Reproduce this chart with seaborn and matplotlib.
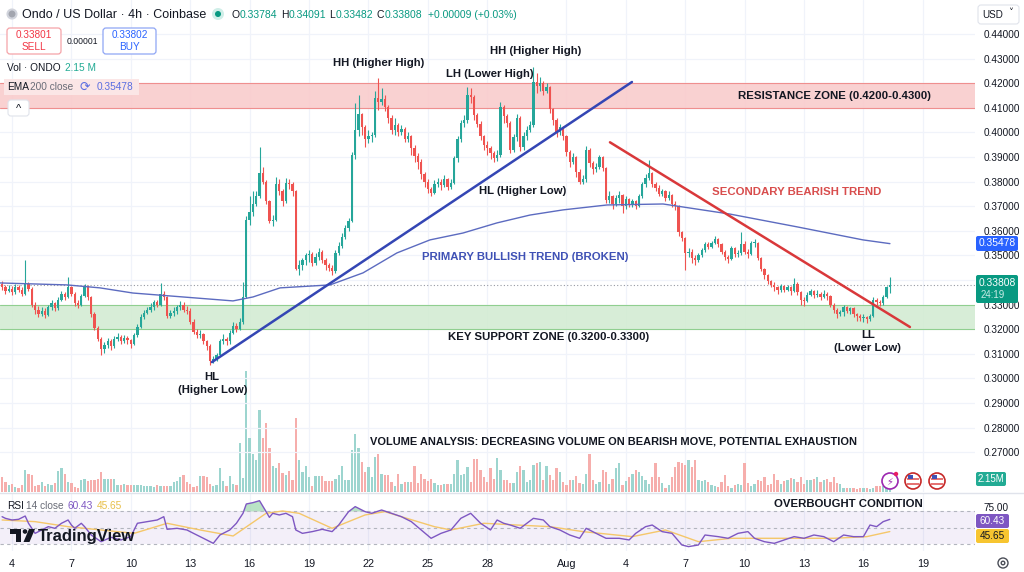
import numpy as np
import matplotlib
matplotlib.use("Agg")
import matplotlib.pyplot as plt
import seaborn as sns
from matplotlib.patches import Rectangle, FancyBboxPatch, Circle, Polygon

sns.set_theme(style="white")
plt.rcParams['font.family'] = ['Liberation Sans', 'DejaVu Sans']

# ---------------- data (4h candles, ONDO/USD, from Jul 3 12:00) ----------------
first_open = 0.3385
closes = [
    0.3370, 0.3355, 0.3365,
    0.3350, 0.3372, 0.3360, 0.3345, 0.3385, 0.3365,
    0.3300, 0.3280, 0.3262, 0.3275, 0.3258, 0.3290,
    0.3305, 0.3285, 0.3320, 0.3345, 0.3330, 0.3370,
    0.3345, 0.3305, 0.3300, 0.3335, 0.3372, 0.3330,
    0.3260, 0.3205, 0.3160, 0.3120, 0.3135, 0.3150,
    0.3130, 0.3160, 0.3170, 0.3150, 0.3165, 0.3155,
    0.3140, 0.3175, 0.3210, 0.3250, 0.3265, 0.3280,
    0.3290, 0.3310, 0.3300, 0.3345, 0.3330, 0.3255,
    0.3265, 0.3275, 0.3290, 0.3300, 0.3280, 0.3275,
    0.3230, 0.3190, 0.3175, 0.3180, 0.3150, 0.3130,
    0.3070, 0.3080, 0.3095, 0.3150, 0.3160, 0.3150,
    0.3185, 0.3215, 0.3200, 0.3230, 0.3330, 0.3645,
    0.3675, 0.3710, 0.3740, 0.3835, 0.3800, 0.3720,
    0.3640, 0.3645, 0.3790, 0.3760, 0.3720, 0.3795,
    0.3790, 0.3760, 0.3445, 0.3460, 0.3480, 0.3500,
    0.3505, 0.3470, 0.3495, 0.3515, 0.3480, 0.3460,
    0.3450, 0.3435, 0.3510, 0.3540, 0.3575, 0.3610,
    0.3640, 0.3910, 0.4010, 0.4075, 0.4020, 0.3975,
    0.3985, 0.3990, 0.4140, 0.4125, 0.4135, 0.4105,
    0.4060, 0.4010, 0.4030, 0.4000, 0.4015, 0.3975,
    0.3985, 0.3935, 0.3905, 0.3880, 0.3830, 0.3800,
    0.3770, 0.3755, 0.3790, 0.3800, 0.3785, 0.3810,
    0.3780, 0.3795, 0.3895, 0.3975, 0.4040, 0.4050,
    0.4150, 0.4145, 0.4070, 0.4035, 0.3985, 0.3950,
    0.3935, 0.3915, 0.3895, 0.3910, 0.4105, 0.4065,
    0.4040, 0.3930, 0.3980, 0.4060, 0.3940, 0.3985,
    0.4010, 0.4030, 0.4205, 0.4190, 0.4200, 0.4170,
    0.4185, 0.4095, 0.4050, 0.4000, 0.4020, 0.3985,
    0.3920, 0.3880, 0.3900, 0.3840, 0.3800, 0.3810,
    0.3930, 0.3875, 0.3850, 0.3860, 0.3900, 0.3855,
    0.3725, 0.3740, 0.3710, 0.3735, 0.3745, 0.3700,
    0.3730, 0.3710, 0.3720, 0.3700, 0.3740, 0.3790,
    0.3815, 0.3835, 0.3790, 0.3775, 0.3750, 0.3760,
    0.3735, 0.3745, 0.3710, 0.3700, 0.3595, 0.3570,
    0.3510, 0.3515, 0.3490, 0.3480, 0.3500, 0.3520,
    0.3545, 0.3535, 0.3550, 0.3565, 0.3545, 0.3515,
    0.3495, 0.3485, 0.3530, 0.3505, 0.3510, 0.3545,
    0.3515, 0.3505, 0.3550, 0.3550, 0.3490, 0.3445,
    0.3420, 0.3395, 0.3380, 0.3370, 0.3360, 0.3375,
    0.3360, 0.3370, 0.3355, 0.3385, 0.3350, 0.3320,
    0.3315, 0.3340, 0.3355, 0.3340, 0.3345, 0.3330,
    0.3345, 0.3335, 0.3300, 0.3280, 0.3260, 0.3270,
    0.3290, 0.3275, 0.3285, 0.3260, 0.3255, 0.3245,
    0.3250, 0.3240, 0.3255, 0.3320, 0.3310, 0.3305,
    0.3330, 0.3370, 0.33808,
]
highs = [
    0.3395, 0.3380, 0.3380,
    0.3375, 0.3385, 0.3380, 0.3370, 0.3480, 0.3392,
    0.3370, 0.3310, 0.3295, 0.3290, 0.3285, 0.3300,
    0.3318, 0.3310, 0.3330, 0.3355, 0.3352, 0.3412,
    0.3375, 0.3350, 0.3318, 0.3345, 0.3385, 0.3378,
    0.3335, 0.3270, 0.3215, 0.3170, 0.3148, 0.3165,
    0.3160, 0.3172, 0.3185, 0.3178, 0.3175, 0.3172,
    0.3162, 0.3185, 0.3220, 0.3262, 0.3280, 0.3292,
    0.3305, 0.3320, 0.3318, 0.3388, 0.3355, 0.3335,
    0.3280, 0.3290, 0.3300, 0.3315, 0.3310, 0.3295,
    0.3285, 0.3240, 0.3200, 0.3195, 0.3185, 0.3158,
    0.3138, 0.3090, 0.3105, 0.3160, 0.3180, 0.3170,
    0.3195, 0.3230, 0.3225, 0.3245, 0.3392, 0.3660,
    0.3740, 0.3760, 0.3760, 0.3941, 0.3860, 0.3805,
    0.3725, 0.3665, 0.3820, 0.3810, 0.3770, 0.3815,
    0.3812, 0.3800, 0.3765, 0.3480, 0.3490, 0.3510,
    0.3520, 0.3512, 0.3510, 0.3530, 0.3520, 0.3490,
    0.3468, 0.3462, 0.3520, 0.3555, 0.3590, 0.3625,
    0.3650, 0.3920, 0.4120, 0.4150, 0.4080, 0.4030,
    0.4010, 0.4000, 0.4170, 0.4221, 0.4180, 0.4150,
    0.4110, 0.4070, 0.4060, 0.4040, 0.4030, 0.4020,
    0.4000, 0.3990, 0.3950, 0.3915, 0.3890, 0.3840,
    0.3810, 0.3780, 0.3805, 0.3815, 0.3810, 0.3825,
    0.3815, 0.3810, 0.3905, 0.3985, 0.4050, 0.4070,
    0.4185, 0.4180, 0.4150, 0.4080, 0.4045, 0.3990,
    0.3965, 0.3945, 0.3925, 0.3930, 0.4125, 0.4110,
    0.4075, 0.4045, 0.3995, 0.4075, 0.4065, 0.4000,
    0.4025, 0.4045, 0.4266, 0.4240, 0.4225, 0.4210,
    0.4200, 0.4190, 0.4100, 0.4060, 0.4035, 0.4025,
    0.3990, 0.3930, 0.3915, 0.3905, 0.3850, 0.3825,
    0.3945, 0.3935, 0.3885, 0.3875, 0.3910, 0.3905,
    0.3860, 0.3760, 0.3745, 0.3745, 0.3760, 0.3750,
    0.3740, 0.3735, 0.3730, 0.3725, 0.3750, 0.3800,
    0.3830, 0.3888, 0.3840, 0.3800, 0.3785, 0.3770,
    0.3765, 0.3760, 0.3750, 0.3720, 0.3705, 0.3600,
    0.3575, 0.3530, 0.3525, 0.3500, 0.3510, 0.3530,
    0.3555, 0.3555, 0.3560, 0.3580, 0.3570, 0.3550,
    0.3520, 0.3500, 0.3540, 0.3535, 0.3520, 0.3595,
    0.3560, 0.3525, 0.3560, 0.3565, 0.3555, 0.3495,
    0.3450, 0.3425, 0.3400, 0.3390, 0.3375, 0.3385,
    0.3380, 0.3380, 0.3375, 0.3410, 0.3390, 0.3355,
    0.3330, 0.3350, 0.3365, 0.3360, 0.3360, 0.3352,
    0.3360, 0.3350, 0.3340, 0.3305, 0.3285, 0.3280,
    0.3300, 0.3295, 0.3292, 0.3290, 0.3265, 0.3260,
    0.3262, 0.3255, 0.3262, 0.3331, 0.3325, 0.3318,
    0.3340, 0.3375, 0.3412,
]
lows = [
    0.3360, 0.3345, 0.3350,
    0.3340, 0.3345, 0.3350, 0.3335, 0.3340, 0.3355,
    0.3290, 0.3262, 0.3250, 0.3255, 0.3245, 0.3252,
    0.3280, 0.3275, 0.3280, 0.3315, 0.3320, 0.3325,
    0.3335, 0.3295, 0.3286, 0.3295, 0.3330, 0.3320,
    0.3250, 0.3195, 0.3150, 0.3095, 0.3105, 0.3125,
    0.3115, 0.3125, 0.3150, 0.3140, 0.3145, 0.3140,
    0.3125, 0.3135, 0.3170, 0.3205, 0.3240, 0.3260,
    0.3270, 0.3280, 0.3290, 0.3295, 0.3320, 0.3245,
    0.3245, 0.3255, 0.3262, 0.3280, 0.3270, 0.3262,
    0.3222, 0.3180, 0.3165, 0.3165, 0.3140, 0.3115,
    0.3055, 0.3062, 0.3070, 0.3090, 0.3140, 0.3135,
    0.3140, 0.3180, 0.3190, 0.3195, 0.3220, 0.3325,
    0.3625, 0.3660, 0.3700, 0.3735, 0.3790, 0.3710,
    0.3630, 0.3620, 0.3640, 0.3745, 0.3700, 0.3715,
    0.3770, 0.3740, 0.3440, 0.3420, 0.3440, 0.3460,
    0.3475, 0.3455, 0.3460, 0.3480, 0.3470, 0.3440,
    0.3435, 0.3420, 0.3430, 0.3500, 0.3530, 0.3565,
    0.3600, 0.3635, 0.3890, 0.3985, 0.3990, 0.3940,
    0.3955, 0.3960, 0.3980, 0.4090, 0.4110, 0.4085,
    0.4040, 0.3995, 0.3990, 0.3985, 0.3990, 0.3960,
    0.3960, 0.3910, 0.3880, 0.3850, 0.3810, 0.3780,
    0.3754, 0.3740, 0.3750, 0.3780, 0.3765, 0.3780,
    0.3765, 0.3770, 0.3790, 0.3880, 0.3960, 0.4020,
    0.4040, 0.4120, 0.4050, 0.4020, 0.3970, 0.3930,
    0.3910, 0.3890, 0.3880, 0.3885, 0.3900, 0.4040,
    0.4020, 0.3915, 0.3920, 0.3965, 0.3925, 0.3930,
    0.3970, 0.4000, 0.4020, 0.4160, 0.4170, 0.4150,
    0.4160, 0.4080, 0.4030, 0.3980, 0.3990, 0.3970,
    0.3905, 0.3860, 0.3870, 0.3820, 0.3790, 0.3790,
    0.3800, 0.3860, 0.3830, 0.3840, 0.3850, 0.3845,
    0.3715, 0.3715, 0.3690, 0.3700, 0.3715, 0.3673,
    0.3690, 0.3695, 0.3695, 0.3690, 0.3695, 0.3735,
    0.3780, 0.3805, 0.3780, 0.3760, 0.3740, 0.3740,
    0.3720, 0.3725, 0.3695, 0.3685, 0.3580, 0.3560,
    0.3440, 0.3495, 0.3470, 0.3460, 0.3475, 0.3495,
    0.3515, 0.3525, 0.3530, 0.3545, 0.3535, 0.3505,
    0.3480, 0.3470, 0.3480, 0.3495, 0.3495, 0.3500,
    0.3505, 0.3490, 0.3500, 0.3535, 0.3480, 0.3435,
    0.3405, 0.3385, 0.3370, 0.3355, 0.3345, 0.3350,
    0.3350, 0.3355, 0.3340, 0.3350, 0.3340, 0.3300,
    0.3295, 0.3310, 0.3335, 0.3325, 0.3330, 0.3320,
    0.3325, 0.3320, 0.3290, 0.3265, 0.3245, 0.3255,
    0.3255, 0.3265, 0.3260, 0.3250, 0.3235, 0.3235,
    0.3230, 0.3225, 0.3235, 0.3250, 0.3300, 0.3295,
    0.3300, 0.3325, 0.3348,
]
# volume in millions ONDO
volumes = [
    2.7, 1.8, 1.2,
    1.4, 0.9, 0.8, 1.2, 3.9, 3.2,
    3.0, 1.0, 1.2, 1.8, 1.0, 1.5,
    1.2, 1.6, 3.8, 4.2, 3.2, 1.8,
    1.6, 0.9, 0.8, 2.2, 2.3, 2.0,
    2.2, 2.1, 2.3, 3.6, 2.4, 2.4,
    2.4, 2.3, 1.3, 1.2, 1.4, 1.3,
    1.3, 1.3, 1.2, 1.3, 1.1, 1.0,
    1.1, 0.9, 1.2, 1.0, 1.0, 1.1,
    1.0, 1.8, 2.0, 2.6, 3.0, 1.8,
    1.5, 0.9, 1.0, 2.8, 2.8, 2.6,
    1.5, 1.0, 1.2, 4.3, 2.0, 1.0,
    2.8, 1.4, 1.3, 8.8, 2.5, 21.7,
    9.7, 6.7, 5.8, 14.7, 9.7, 12.3,
    7.9, 4.6, 4.2, 5.2, 3.4, 3.0,
    3.7, 2.1, 13.3, 5.8, 3.6, 4.6,
    2.6, 1.0, 2.8, 2.8, 2.8, 2.0,
    2.0, 2.0, 2.4, 3.0, 4.6, 2.1,
    2.2, 7.5, 10.3, 7.8, 5.4, 3.6,
    4.4, 2.6, 6.2, 6.7, 3.3, 3.0,
    3.0, 1.8, 1.0, 3.3, 1.4, 1.8,
    1.8, 1.8, 4.6, 1.6, 3.3, 2.3,
    2.0, 2.3, 1.6, 1.2, 1.2, 1.4,
    1.4, 1.4, 3.2, 5.7, 3.0, 3.3,
    4.4, 1.8, 5.9, 5.9, 3.9, 2.7,
    1.8, 4.2, 2.4, 6.0, 3.9, 2.1,
    2.1, 1.6, 1.6, 3.6, 4.6, 3.9,
    1.8, 2.1, 4.9, 5.1, 5.4, 2.1,
    4.6, 3.0, 2.1, 4.2, 3.6, 1.8,
    1.2, 2.1, 2.2, 2.8, 1.6, 1.5,
    3.3, 6.7, 2.1, 1.5, 1.8, 3.9,
    3.6, 1.5, 2.4, 4.2, 5.1, 1.2,
    1.9, 2.7, 3.2, 3.9, 3.6, 2.8,
    2.1, 1.5, 2.6, 5.1, 2.6, 1.6,
    0.8, 1.2, 2.7, 4.5, 5.4, 5.2,
    4.8, 5.7, 4.5, 5.7, 2.1, 1.9,
    2.1, 1.8, 1.2, 1.0, 0.9, 1.8,
    3.0, 1.0, 0.8, 1.2, 1.5, 1.2,
    5.1, 1.6, 1.0, 1.5, 2.1, 1.9,
    2.7, 1.2, 1.5, 3.3, 2.1, 1.5,
    1.9, 2.1, 2.5, 2.4, 1.8, 2.6,
    1.5, 2.1, 2.1, 2.4, 2.6, 1.8,
    2.1, 2.4, 1.8, 2.7, 1.6, 1.5,
    0.8, 0.7, 0.7, 0.7, 0.6, 0.7,
    0.7, 0.7, 0.6, 0.7, 1.0, 1.0,
    1.0, 1.5, 2.15,
]
# EMA 200 (day of July, price)
ema_day = [2.39, 5.78, 7.44, 9.11, 11.64, 14.16, 15.17, 16.54, 19.06, 20.73, 22.44,
           24.11, 25.78, 27.49, 29.16, 30.83, 33.05, 35.88, 39.26, 42.65, 45.98, 47.34]
ema_price = [0.3388, 0.3380, 0.3368, 0.3347, 0.3331, 0.3315, 0.3331, 0.3368, 0.3380, 0.3429, 0.3510,
             0.3563, 0.3591, 0.3632, 0.3664, 0.3685, 0.3705, 0.3709, 0.3668, 0.3616, 0.3563, 0.35478]
# RSI 14 (candle index, value) and its moving average
rsi_idx = [0, 1, 3, 5, 7, 8, 10, 12, 14, 16,
           18, 20, 21, 22, 24, 25, 27, 30, 33, 36,
           39, 41, 44, 47, 49, 50, 53, 56, 58, 61,
           64, 66, 69, 71, 73, 74, 76, 78, 80, 81,
           82, 84, 86, 88, 89, 91, 94, 97, 100, 102,
           105, 107, 110, 112, 115, 118, 121, 124, 127, 130,
           133, 136, 139, 142, 145, 148, 150, 152, 154, 157,
           161, 164, 166, 169, 172, 175, 177, 180, 183, 187,
           190, 192, 195, 197, 200, 203, 206, 208, 211, 213,
           217, 220, 223, 226, 228, 231, 234, 237, 240, 243,
           246, 249, 252, 255, 258, 261, 263, 265, 267, 269]
rsi_val = [63.7, 61.7, 59.7, 60.5, 64.5, 55.7, 43.5, 47.6, 51.6, 49.6,
           55.7, 59.7, 53.6, 49.6, 55.7, 51.6, 41.5, 33.4, 38.7, 35.5,
           39.5, 55.7, 57.7, 59.7, 63.7, 48.4, 49.6, 47.6, 43.5, 37.5,
           31.4, 41.5, 47.6, 55.7, 67.8, 79.1, 80.7, 83.1, 69.8, 62.9,
           67.8, 65.8, 67.8, 63.7, 47.6, 43.5, 45.6, 48.4, 45.6, 53.6,
           69.8, 75.9, 69.8, 67.8, 71.8, 67.8, 63.7, 57.7, 47.6, 37.5,
           43.5, 47.6, 61.7, 67.8, 55.7, 47.6, 59.7, 55.7, 53.6, 49.6,
           61.7, 59.7, 51.6, 47.6, 41.5, 37.5, 49.6, 43.5, 37.5, 37.5,
           35.5, 43.5, 51.6, 53.6, 45.6, 43.5, 29.4, 27.4, 29.4, 41.5,
           39.5, 37.5, 43.5, 45.6, 37.5, 33.4, 31.4, 35.5, 39.5, 37.5,
           41.5, 39.5, 33.4, 41.5, 39.5, 39.5, 53.6, 51.6, 57.7, 60.43]
ma_idx = [0, 10, 20, 30, 40, 50, 60, 70, 80, 85, 90, 100, 110, 116, 121,
          131, 136, 146, 156, 166, 176, 191, 201, 211, 221, 231, 242, 252, 262, 269]
ma_val = [59.7, 57.7, 51.6, 47.6, 43.5, 55.7, 47.6, 40.3, 67.8, 70.6, 67.8, 49.6, 65.8, 69.8, 63.7,
          51.6, 47.6, 55.7, 53.6, 51.6, 45.6, 39.5, 47.6, 33.4, 37.5, 37.5, 37.5, 37.5, 39.5, 45.65]

# drawn trend lines (day, price)
bull_line = [(13.10, 0.30663), (34.31, 0.42049)]
bear_line = [(33.20, 0.39598), (48.35, 0.32089)]
resistance = (0.41, 0.42)
support = (0.32, 0.33)
last_price = 0.33808

price_ticks = [0.27, 0.28, 0.29, 0.30, 0.31, 0.32, 0.33, 0.34, 0.35,
               0.36, 0.37, 0.38, 0.39, 0.40, 0.41, 0.42, 0.43, 0.44]
day_ticks = [3, 6, 9, 12, 15, 18, 21, 24, 27, 31, 34, 37, 40, 43, 46, 49]
day_labels = ['4', '7', '10', '13', '16', '19', '22', '25', '28', 'Aug',
              '4', '7', '10', '13', '16', '19']

UP, DN = '#26a69a', '#ef5350'
DARK = '#131722'

# ---------------- figure ----------------
W, H = 1024, 572
fig = plt.figure(figsize=(W / 100, H / 100), dpi=100)
fig.patch.set_facecolor('white')


def box(x0, y0, x1, y1):
    return [x0 / W, 1 - y1 / H, (x1 - x0) / W, (y1 - y0) / H]


axv = fig.add_axes(box(0, 0, 975, 492))
ax = fig.add_axes(box(0, 0, 975, 492), sharex=axv)
axr = fig.add_axes(box(0, 494, 975, 551), sharex=axv)
axv.set_zorder(0)
ax.set_zorder(1)
ax.patch.set_visible(False)

t = 2.5 + np.arange(len(closes)) / 6.0     # day of July
c = np.array(closes)
o = np.array([first_open] + closes[:-1])
hi = np.maximum(np.array(highs), np.maximum(o, c))
lo = np.minimum(np.array(lows), np.minimum(o, c))
up = c >= o
cols = np.where(up, UP, DN)

# volume
vcols = np.where(up, '#9dd5cf', '#f6aeac')
axv.bar(t, volumes, width=0.12, color=vcols, linewidth=0)
axv.set_ylim(0, 87.9)
axv.set_yticks([])

# zones and grid
ax.axhspan(*resistance, facecolor='#f9cccc', edgecolor='none', alpha=0.9, zorder=1)
for p in resistance:
    ax.axhline(p, color='#ef8f8f', lw=0.8, zorder=1)
ax.axhspan(*support, facecolor='#d3ecd3', edgecolor='none', alpha=0.9, zorder=1)
for p in support:
    ax.axhline(p, color='#90cf90', lw=0.8, zorder=1)
ax.axhline(last_price, color='#9598a1', lw=0.8, ls=(0, (1, 2)), zorder=2)

# candles
ax.vlines(t, lo, hi, colors=cols, lw=0.8, zorder=3)
body = np.maximum(np.abs(c - o), 0.00025)
ax.bar(t, body, bottom=np.minimum(o, c), width=0.12, color=cols, linewidth=0, zorder=4)

# EMA 200
sns.lineplot(x=ema_day, y=ema_price, ax=ax, color='#5c6bc0', lw=1.0, zorder=5)

# trend lines
ax.plot([p[0] for p in bull_line], [p[1] for p in bull_line], color='#3446b4', lw=1.8, zorder=6,
        solid_capstyle='round')
ax.plot([p[0] for p in bear_line], [p[1] for p in bear_line], color='#d9383a', lw=1.8, zorder=6,
        solid_capstyle='round')

ax.set_ylim(0.25382, 0.45382)
ax.set_xlim(2.394, 51.636)
ax.yaxis.tick_right()
ax.set_yticks(price_ticks)
# 0.34000 sits behind the last-price tag
ax.set_yticklabels(['' if abs(p - 0.34) < 1e-9 else f'{p:.5f}' for p in price_ticks])
ax.tick_params(axis='y', length=0, pad=6, labelsize=7.2, labelcolor=DARK)
ax.grid(axis='y', color='#f0f3fa', lw=0.9)
ax.set_axisbelow(True)

for a in (ax, axv, axr):
    for s in a.spines.values():
        s.set_visible(False)
axv.set_xticks(day_ticks)
axv.grid(axis='x', color='#f0f3fa', lw=0.9)
axr.grid(axis='x', color='#f0f3fa', lw=0.9)
ax.tick_params(axis='x', labelbottom=False, length=0)
axv.tick_params(axis='x', labelbottom=False, length=0)
ax.set_xlabel('')
ax.set_ylabel('')

# RSI panel
rsi_day = 2.5 + np.array(rsi_idx) / 6.0
ma_day = 2.5 + np.array(ma_idx) / 6.0
rv = np.array(rsi_val)
axr.axhspan(30, 70, color='#7e57c2', alpha=0.09, lw=0)
for lvl in (70, 50, 30):
    axr.axhline(lvl, color='#b2b5be', lw=0.8, ls=(0, (3, 3)))
axr.fill_between(rsi_day, rv, 70, where=rv > 70, interpolate=True, color='#a8dcb8', alpha=0.8, lw=0)
sns.lineplot(x=ma_day, y=ma_val, ax=axr, color='#f5c76a', lw=1.0)
sns.lineplot(x=rsi_day, y=rsi_val, ax=axr, color='#7e57c2', lw=1.0)
axr.set_ylim(22.1, 91.2)
axr.yaxis.tick_right()
axr.set_yticks([75])
axr.set_yticklabels(['75.00'])
axr.tick_params(axis='y', length=0, pad=6, labelsize=7.2, labelcolor=DARK)
axr.set_xticks(day_ticks)
axr.set_xticklabels(day_labels)
axr.tick_params(axis='x', length=0, pad=6, labelsize=7.8, labelcolor=DARK)
axr.set_xlabel('')
axr.set_ylabel('')

# ---------------- overlay (pixel coordinates) ----------------
ui = fig.add_axes([0, 0, 1, 1])
ui.set_xlim(0, W)
ui.set_ylim(H, 0)
ui.axis('off')
ui.set_zorder(10)

ui.plot([0, W], [493, 493], color='#e0e3eb', lw=1)


def txt(x, y, s, size=8.2, color=DARK, weight='bold', ha='center', **kw):
    ui.text(x, y, s, fontsize=size, color=color, fontweight=weight, ha=ha, va='center', **kw)


# annotations
txt(379, 63, 'HH (Higher High)')
txt(536, 51, 'HH (Higher High)')
txt(490, 74, 'LH (Lower High)')
txt(523, 191, 'HL (Higher Low)')
txt(525, 257, 'PRIMARY BULLISH TREND (BROKEN)', color='#3f51b5')
txt(797, 192, 'SECONDARY BEARISH TREND', color='#d84d4d')
txt(835, 96, 'RESISTANCE ZONE (0.4200-0.4300)')
txt(549, 337, 'KEY SUPPORT ZONE (0.3200-0.3300)')
txt(868, 335, 'LL')
txt(868, 348, '(Lower Low)')
txt(212, 377, 'HL')
txt(213, 390, '(Higher Low)')
txt(614, 442, 'VOLUME ANALYSIS: DECREASING VOLUME ON BEARISH MOVE, POTENTIAL EXHAUSTION', size=7.9)
txt(848, 504, 'OVERBOUGHT CONDITION')

# header
ui.add_patch(Circle((12, 14), 4.5, fc='#a3a6af', ec='#d1d4dc', lw=1.5))
txt(22, 14.5, 'Ondo / US Dollar · 4h · Coinbase', size=9.0, weight='normal', ha='left')
ui.add_patch(Circle((218, 14), 6, fc='#cfeee8', ec='none'))
ui.add_patch(Circle((218, 14), 3, fc='#089981', ec='none'))
TEAL = '#089981'
for x, letter, val in [(240, 'O', '0.33784'), (289, 'H', '0.34091'), (336, 'L', '0.33482'),
                       (385, 'C', '0.33808')]:
    txt(x - 0.8, 14.5, letter, size=7.5, weight='normal', ha='right')
    txt(x, 14.5, val, size=7.5, color=TEAL, weight='normal', ha='left')
txt(428, 14.5, '+0.00009 (+0.03%)', size=7.5, color=TEAL, weight='normal', ha='left')

ui.add_patch(FancyBboxPatch((7, 28), 54, 26, boxstyle='round,pad=0,rounding_size=3',
                            fc='white', ec='#f5a3a8', lw=0.9))
txt(34, 35.5, '0.33801', size=7.2, color='#f23645', weight='normal')
txt(34, 46.5, 'SELL', size=7.2, color='#f23645', weight='normal')
txt(82, 41, '0.00001', size=6.2, color=DARK, weight='normal')
ui.add_patch(FancyBboxPatch((103, 28), 53, 26, boxstyle='round,pad=0,rounding_size=3',
                            fc='white', ec='#8fa6f5', lw=0.9))
txt(129.5, 35.5, '0.33802', size=7.2, color='#2962ff', weight='normal')
txt(129.5, 46.5, 'BUY', size=7.2, color='#2962ff', weight='normal')

txt(7, 68, 'Vol · ONDO', size=7.3, weight='normal', ha='left')
txt(65, 68, '2.15 M', size=7.3, color='#22ab94', weight='normal', ha='left')
ui.add_patch(Rectangle((4, 79), 135, 16, fc='#fbe6e6', ec='none'))
txt(7, 87, 'EMA', size=7.3, weight='normal', ha='left')
txt(30, 87, '200 close', size=7.3, color='#6a6d78', weight='normal', ha='left')
ui.text(85, 87, '⟳', fontsize=9, color='#5b6ee1', ha='center', va='center', family=['DejaVu Sans'])
txt(97, 87, '0.35478', size=7.3, color='#5b6ee1', weight='normal', ha='left')
ui.add_patch(FancyBboxPatch((8, 100), 21, 16, boxstyle='round,pad=0,rounding_size=3',
                            fc='white', ec='#e0e3eb', lw=0.8))
txt(18.5, 109, '^', size=8, weight='normal')

# currency selector
ui.add_patch(FancyBboxPatch((978, 5), 41, 19, boxstyle='round,pad=0,rounding_size=3',
                            fc='white', ec='#e0e3eb', lw=0.8))
txt(982, 14.5, 'USD', size=7.1, weight='normal', ha='left')
ui.text(1011, 13.5, '˅', fontsize=7, color=DARK, ha='center', va='center', family=['DejaVu Sans'])

# right-axis tags
ui.add_patch(FancyBboxPatch((976, 236), 42, 15, boxstyle='round,pad=0,rounding_size=2',
                            fc='#2962ff', ec='none'))
txt(997, 243.5, '0.35478', size=7.4, color='white', weight='normal')
ui.add_patch(FancyBboxPatch((976, 275), 42, 28, boxstyle='round,pad=0,rounding_size=2',
                            fc='#089981', ec='none'))
txt(997, 283, '0.33808', size=7.4, color='white', weight='normal')
txt(993, 295, '24:19', size=7.0, color='#c9ece6', weight='normal')
ui.add_patch(FancyBboxPatch((976, 472), 30, 14, boxstyle='round,pad=0,rounding_size=2',
                            fc='#22ab94', ec='none'))
txt(991, 479, '2.15M', size=7.0, color='white', weight='normal')
ui.add_patch(FancyBboxPatch((976, 514), 33, 14, boxstyle='round,pad=0,rounding_size=2',
                            fc='#7e57c2', ec='none'))
txt(992.5, 521, '60.43', size=7.2, color='white', weight='normal')
ui.add_patch(FancyBboxPatch((976, 529), 33, 14, boxstyle='round,pad=0,rounding_size=2',
                            fc='#f7c530', ec='none'))
txt(992.5, 536, '45.65', size=7.2, color=DARK, weight='normal')

# RSI legend
txt(7, 506, 'RSI', size=7.3, weight='normal', ha='left')
txt(26, 506, '14 close', size=7.3, color='#6a6d78', weight='normal', ha='left')
txt(68, 506, '60.43', size=7.3, color='#7e57c2', weight='normal', ha='left')
txt(97, 506, '45.65', size=7.3, color='#e8c04a', weight='normal', ha='left')

# event icons on the volume strip
ui.add_patch(Circle((890, 481), 8, fc='white', ec='#9c27b0', lw=1.2))
ui.text(890, 481.5, '⚡', fontsize=7, color='#9c27b0', ha='center', va='center', family=['DejaVu Sans'])
ui.add_patch(Circle((896, 474), 2.2, fc='#e91e63', ec='none'))
for cx in (913, 937):
    ui.add_patch(Circle((cx, 481), 8, fc='white', ec='#c62828', lw=1.2))
    ui.add_patch(Rectangle((cx - 6, 478), 12, 2, fc='#e57373', ec='none'))
    ui.add_patch(Rectangle((cx - 6, 483), 12, 2, fc='#e57373', ec='none'))
    ui.add_patch(Rectangle((cx - 5, 475), 5, 3.5, fc='#3f51b5', ec='none'))

# TradingView watermark
ui.add_patch(Rectangle((10, 529), 11, 4.5, fc=DARK, ec='none'))
ui.add_patch(Rectangle((16, 529), 5, 13, fc=DARK, ec='none'))
ui.add_patch(Circle((25, 531.5), 2.3, fc=DARK, ec='none'))
ui.add_patch(Polygon([(29, 529), (35, 529), (29.5, 542), (23.5, 542)], closed=True, fc=DARK, ec='none'))
txt(38, 536, 'TradingView', size=12, ha='left')

# settings icon
ui.add_patch(Circle((1003, 563), 5, fc='none', ec='#4a4d57', lw=1))
ui.add_patch(Circle((1003, 563), 1.8, fc='none', ec='#4a4d57', lw=1))

fig.savefig('out.png', dpi=100, facecolor='white')
